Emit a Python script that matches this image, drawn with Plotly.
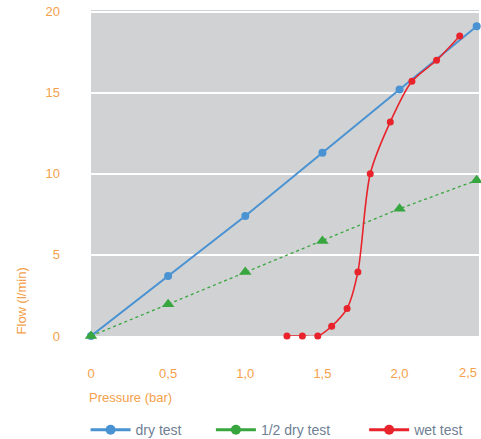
import plotly.graph_objects as go

pressure = [0, 0.5, 1.0, 1.5, 2.0, 2.5]
dry_flow = [0, 3.7, 7.4, 11.3, 15.2, 19.1]
half_dry_flow = [0, 1.95, 3.95, 5.85, 7.85, 9.6]
wet_pressure = [1.27, 1.37, 1.47, 1.56, 1.66, 1.73, 1.81, 1.94, 2.08, 2.24, 2.39]
wet_flow = [0, 0, 0, 0.6, 1.7, 3.95, 10.0, 13.2, 15.7, 17.0, 18.5]

x_ticks = [0, 0.5, 1.0, 1.5, 2.0, 2.5]
x_ticktext = ["0", "0,5", "1,0", "1,5", "2,0", "2,5"]
y_ticks = [0, 5, 10, 15, 20]

BLUE = "#4a93d3"
GREEN = "#38a63f"
RED = "#e8232b"
ORANGE = "#f5a04a"
LEGEND_TEXT = "#6f7f95"
FONT = "Liberation Sans"

fig = go.Figure()
fig.add_trace(go.Scatter(x=pressure, y=dry_flow, mode="lines+markers",
                         line=dict(color=BLUE, width=2), marker=dict(color=BLUE, size=8),
                         showlegend=False, cliponaxis=False))
fig.add_trace(go.Scatter(x=pressure, y=half_dry_flow, mode="lines+markers",
                         line=dict(color=GREEN, width=1.3, dash="dot"),
                         marker=dict(color=GREEN, size=11, symbol="triangle-up"),
                         showlegend=False, cliponaxis=False))
fig.add_trace(go.Scatter(x=wet_pressure, y=wet_flow, mode="lines+markers",
                         line=dict(color=RED, width=1.6, shape="spline", smoothing=0.8),
                         marker=dict(color=RED, size=7),
                         showlegend=False, cliponaxis=False))
# legend entries (each in its own legend for exact placement)
legend_items = [("dry test", BLUE, "legend"), ("1/2 dry test", GREEN, "legend2"),
                ("wet test", RED, "legend3")]
for name, col, lg in legend_items:
    fig.add_trace(go.Scatter(x=[None], y=[None], mode="lines+markers", name=name, legend=lg,
                             line=dict(color=col, width=3), marker=dict(color=col, size=10)))

legend_style = dict(orientation="h", yref="paper", y=-0.289, xref="paper",
                    xanchor="left", yanchor="middle", bgcolor="rgba(0,0,0,0)",
                    itemwidth=40,
                    font=dict(family=FONT, size=14, color=LEGEND_TEXT))

fig.update_layout(
    width=481, height=439,
    margin=dict(l=91, r=2, t=10, b=103, autoexpand=False),
    paper_bgcolor="white", plot_bgcolor="#d1d2d4",
    font=dict(family=FONT, color=ORANGE, size=13),
    legend=dict(legend_style, x=-0.014),
    legend2=dict(legend_style, x=0.309),
    legend3=dict(legend_style, x=0.704),
    annotations=[
        dict(text="Flow (l/min)", x=-0.178, xref="paper", y=0, yref="paper", showarrow=False,
             textangle=-90, xanchor="center", yanchor="bottom", font=dict(size=13, color=ORANGE)),
        dict(text="Pressure (bar)", x=-0.01, xref="paper", y=-0.19, yref="paper", showarrow=False,
             xanchor="left", yanchor="middle", font=dict(size=13, color=ORANGE)),
        # last x tick label sits at the right edge, so it is right-aligned to stay inside
        dict(text=x_ticktext[-1], x=x_ticks[-1], xref="x", y=0, yref="paper", yshift=-36,
             showarrow=False, xanchor="right", xshift=2, yanchor="middle",
             font=dict(size=13, color=ORANGE)),
    ],
)
fig.update_xaxes(range=[0, 2.515], tickvals=x_ticks[:-1], ticktext=x_ticktext[:-1], showgrid=False,
                 zeroline=False, showline=False, ticks="", ticklabelstandoff=28,
                 ticklabeloverflow="allow", tickfont=dict(color=ORANGE, size=13))
fig.update_yaxes(range=[0, 20.1], tickvals=y_ticks, showgrid=True, gridcolor="white", gridwidth=2,
                 zeroline=False, showline=False, ticks="", ticklabelstandoff=30,
                 ticklabeloverflow="allow", tickfont=dict(color=ORANGE, size=13))

# remove the default page margin so the 481x439 figure fills the window exactly
fig.write_html("out.html", config={"displayModeBar": False},
               post_script="document.body.style.margin='0';document.documentElement.style.overflow='hidden';")
